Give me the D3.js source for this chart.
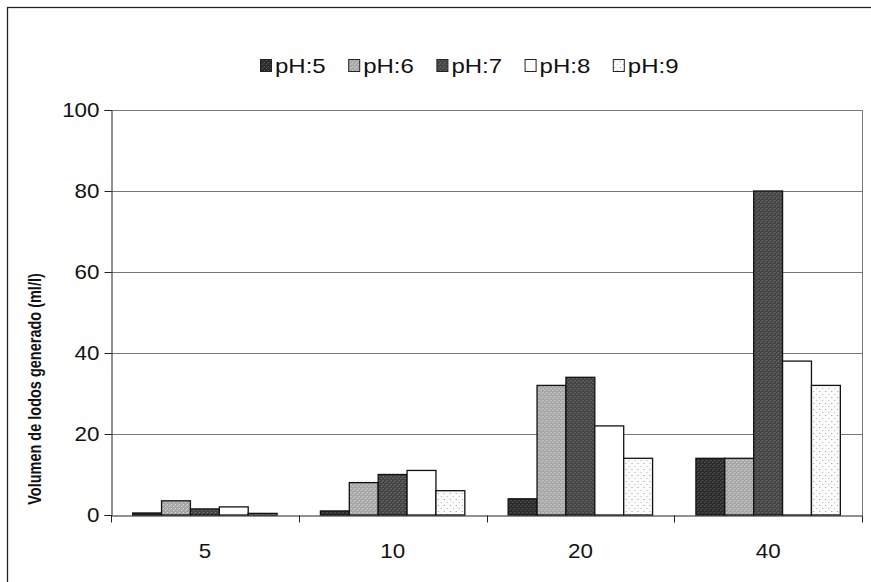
<!DOCTYPE html>
<html>
<head>
<meta charset="utf-8">
<script src="https://cdn.jsdelivr.net/npm/d3@7"></script>
<style>
  html, body { margin: 0; padding: 0; background: #fff; }
  svg { display: block; font-family: "Liberation Sans", Arial, sans-serif; }
</style>
</head>
<body>
<svg id="chart" width="871" height="582"></svg>
<script>
// Sludge volume by dose, one series per pH
const categories = ["5", "10", "20", "40"];
const seriesNames = ["pH:5", "pH:6", "pH:7", "pH:8", "pH:9"];
const ph5 = [0.5, 1, 4, 14];
const ph6 = [3.5, 8, 32, 14];
const ph7 = [1.5, 10, 34, 80];
const ph8 = [2, 11, 22, 38];
const ph9 = [0.4, 6, 14, 32];
const yTicks = [0, 20, 40, 60, 80, 100];
const yTitle = "Volumen de lodos generado (ml/l)";

const seriesValues = [ph5, ph6, ph7, ph8, ph9];
const fills = ["url(#p5)", "url(#p6)", "url(#p7)", "#ffffff", "url(#p9)"];

const svg = d3.select("#chart");
const m = { left: 111, right: 862, top: 110, bottom: 515 };
const WIDE = 1.12; // horizontal stretch of the lettering

// textures for the bar fills
const defs = svg.append("defs");
function grain(id, base, speck, opacity) {
  const p = defs.append("pattern").attr("id", id)
    .attr("patternUnits", "userSpaceOnUse").attr("width", 4).attr("height", 4);
  p.append("rect").attr("width", 4).attr("height", 4).attr("fill", base);
  p.append("rect").attr("x", 0).attr("y", 0).attr("width", 1).attr("height", 1).attr("fill", speck).attr("opacity", opacity);
  p.append("rect").attr("x", 2).attr("y", 2).attr("width", 1).attr("height", 1).attr("fill", speck).attr("opacity", opacity);
  p.append("rect").attr("x", 3).attr("y", 1).attr("width", 1).attr("height", 1).attr("fill", speck).attr("opacity", opacity * 0.6);
}
grain("p5", "#2b2b2b", "#707070", 0.8);
grain("p6", "#a6a6a6", "#e2e2e2", 0.9);
grain("p7", "#444444", "#8a8a8a", 0.8);
(function () {
  const p = defs.append("pattern").attr("id", "p9")
    .attr("patternUnits", "userSpaceOnUse").attr("width", 6).attr("height", 6);
  p.append("rect").attr("width", 6).attr("height", 6).attr("fill", "#fbfbfb");
  p.append("rect").attr("x", 1).attr("y", 1).attr("width", 1).attr("height", 1).attr("fill", "#9a9a9a");
  p.append("rect").attr("x", 4).attr("y", 4).attr("width", 1).attr("height", 1).attr("fill", "#b5b5b5");
})();

// stretch a text node horizontally around its own anchor point
function widen(sel, s) {
  sel.each(function () {
    const t = d3.select(this);
    const x = +t.attr("x") || 0, yy = +t.attr("y") || 0;
    t.attr("x", null).attr("y", null)
      .attr("transform", `translate(${x},${yy}) scale(${s},1)`);
  });
}

// outer frame
svg.append("rect").attr("x", 7.5).attr("y", 7.5).attr("width", 880).attr("height", 600)
  .attr("fill", "none").attr("stroke", "#222").attr("stroke-width", 1.3);

const x0 = d3.scaleBand().domain(categories).range([m.left, m.right]).paddingInner(0).paddingOuter(0);
const x1 = d3.scaleBand().domain(seriesNames).range([0, x0.bandwidth()]).paddingInner(0).paddingOuter(0.75);
const y = d3.scaleLinear().domain([0, 100]).range([m.bottom, m.top]);

// gridlines
svg.append("g").selectAll("line").data(yTicks.filter(d => d > 0)).join("line")
  .attr("x1", m.left).attr("x2", m.right)
  .attr("y1", d => Math.round(y(d)) + 0.5).attr("y2", d => Math.round(y(d)) + 0.5)
  .attr("stroke", "#777").attr("stroke-width", 1);

// plot area right edge
svg.append("line").attr("x1", m.right + 0.5).attr("x2", m.right + 0.5)
  .attr("y1", m.top).attr("y2", m.bottom).attr("stroke", "#777");

// bars
const groups = svg.append("g").selectAll("g").data(categories).join("g")
  .attr("transform", d => `translate(${x0(d)},0)`);
groups.selectAll("rect")
  .data((c, i) => seriesNames.map((s, k) => ({ s, k, v: seriesValues[k][i] })))
  .join("rect")
  .attr("x", d => x1(d.s))
  .attr("width", x1.bandwidth())
  .attr("y", d => y(d.v))
  .attr("height", d => y(0) - y(d.v))
  .attr("fill", d => fills[d.k])
  .attr("stroke", "#111").attr("stroke-width", 1.3);

// y axis
const yAxis = svg.append("g").attr("transform", `translate(${m.left + 0.5},0)`)
  .call(d3.axisLeft(y).tickValues(yTicks).tickSize(7).tickPadding(5));
yAxis.select(".domain").attr("stroke", "#222");
yAxis.selectAll(".tick line").attr("stroke", "#222");
yAxis.selectAll("text").attr("font-size", 20).attr("fill", "#111")
  .attr("font-family", "'Liberation Sans', Arial, sans-serif");
widen(yAxis.selectAll("text"), WIDE);

// x axis: baseline, ticks at category boundaries, labels centred
const xAxis = svg.append("g").attr("transform", `translate(0,${m.bottom + 0.5})`)
  .call(d3.axisBottom(x0).tickSize(0).tickPadding(28));
xAxis.select(".domain").attr("stroke", "#222");
xAxis.selectAll("text").attr("font-size", 20).attr("fill", "#111")
  .attr("font-family", "'Liberation Sans', Arial, sans-serif");
widen(xAxis.selectAll("text"), WIDE);
xAxis.selectAll(".boundary").data(categories.concat(["end"])).join("line")
  .attr("class", "boundary")
  .attr("x1", d => Math.round(d === "end" ? m.right : x0(d)) + 0.5)
  .attr("x2", d => Math.round(d === "end" ? m.right : x0(d)) + 0.5)
  .attr("y1", 0).attr("y2", 7).attr("stroke", "#222");

// y axis title
svg.append("text")
  .attr("transform", `translate(34,389) scale(${WIDE + 0.1},1) rotate(-90)`)
  .attr("text-anchor", "middle").attr("dominant-baseline", "central")
  .attr("font-size", 14.5).attr("font-weight", "bold").attr("fill", "#111")
  .text(yTitle);

// legend
const legend = svg.append("g").attr("transform", "translate(260,66)");
const item = legend.selectAll("g").data(seriesNames).join("g")
  .attr("transform", (d, i) => `translate(${i * 88.2},0)`);
item.append("rect").attr("x", 0.5).attr("y", -6.5).attr("width", 11).attr("height", 12)
  .attr("fill", (d, i) => fills[i]).attr("stroke", "#222").attr("stroke-width", 1);
item.append("text").attr("x", 15).attr("y", 7)
  .attr("font-size", 20).attr("fill", "#111").text(d => d)
  .call(widen, 1.2);
</script>
</body>
</html>
